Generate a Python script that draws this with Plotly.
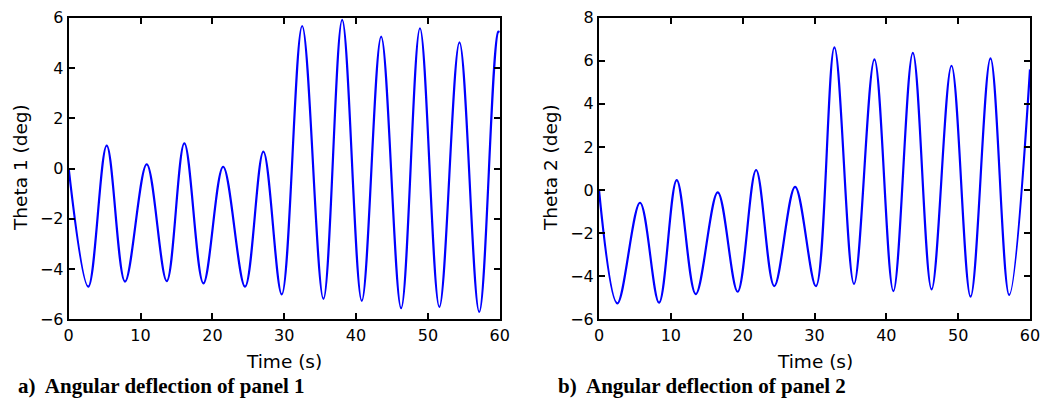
import plotly.graph_objects as go

# Panel 1: extrema (time s, angle deg)
t1 = [0.0, 2.73, 5.29, 7.84, 10.86, 13.65, 16.1, 18.75, 21.5, 24.55, 27.1, 29.66,
      32.5, 35.46, 38.07, 40.8, 43.5, 46.28, 48.9, 51.6, 54.4, 57.15, 59.8, 60.0]
v1 = [0.0, -4.70, 0.91, -4.50, 0.17, -4.48, 1.00, -4.57, 0.07, -4.70, 0.67, -5.01,
      5.67, -5.19, 5.91, -5.27, 5.25, -5.56, 5.58, -5.51, 5.02, -5.71, 5.44, 5.42]

# Panel 2
t2 = [0.0, 2.55, 5.71, 8.36, 10.82, 13.47, 16.53, 19.3, 21.87, 24.4, 27.3, 30.2,
      32.77, 35.5, 38.34, 40.98, 43.69, 46.3, 49.07, 51.73, 54.5, 57.1, 60.0]
v2 = [0.0, -5.26, -0.59, -5.23, 0.46, -4.83, -0.11, -4.72, 0.93, -4.46, 0.15, -4.46,
      6.62, -4.36, 6.07, -4.69, 6.37, -4.61, 5.77, -4.95, 6.11, -4.87, 5.60]

x_ticks = [0, 10, 20, 30, 40, 50, 60]
y1_ticks = [-6, -4, -2, 0, 2, 4, 6]
y2_ticks = [-6, -4, -2, 0, 2, 4, 6, 8]

W, H = 1045, 398
FONT = "DejaVu Sans"

fig = go.Figure()
fig.add_trace(go.Scatter(x=t1, y=v1, mode="lines", line=dict(color="#0000ff", width=2.2, shape="spline", smoothing=1.0),
                         xaxis="x", yaxis="y", showlegend=False))
fig.add_trace(go.Scatter(x=t2, y=v2, mode="lines", line=dict(color="#0000ff", width=2.2, shape="spline", smoothing=1.0),
                         xaxis="x2", yaxis="y2", showlegend=False))

def ax(domain, rng, ticks, anchor):
    return dict(domain=domain, range=rng, tickvals=ticks, ticktext=[str(t).replace("-", "\u2212") for t in ticks],
                showline=True, linecolor="black", linewidth=2, mirror="ticks",
                ticks="inside", ticklen=6, tickwidth=1.5, tickcolor="black",
                showgrid=False, zeroline=False, anchor=anchor, automargin=False,
                tickfont=dict(family=FONT, size=16, color="black"))

yd = [1 - 319.3 / H, 1 - 17.7 / H]
fig.update_layout(
    width=W, height=H, margin=dict(l=0, r=0, t=0, b=0, pad=0),
    paper_bgcolor="white", plot_bgcolor="white",
    xaxis=ax([68.7 / W, 499.7 / W], [0, 60], x_ticks, "y"),
    yaxis=ax(yd, [-6, 6], y1_ticks, "x"),
    xaxis2=ax([599 / W, 1030 / W], [0, 60], x_ticks, "y2"),
    yaxis2=ax(yd, [-6, 8], y2_ticks, "x2"),
)

tf = dict(family=FONT, size=18.5, color="black")
cf = dict(family="Liberation Serif", size=21, color="black")
common = dict(xref="paper", yref="paper", showarrow=False, yanchor="middle")
ann = [
    dict(text="Time (s)", x=284 / W, y=1 - 361.5 / H, xanchor="center", font=tf, **common),
    dict(text="Time (s)", x=815 / W, y=1 - 361.5 / H, xanchor="center", font=tf, **common),
    dict(text="Theta 1 (deg)", x=20 / W, y=1 - 168 / H, xanchor="center", font=tf, textangle=-90, **common),
    dict(text="Theta 2 (deg)", x=550 / W, y=1 - 168 / H, xanchor="center", font=tf, textangle=-90, **common),
    dict(text="<b>a)\u00a0 Angular deflection of panel 1</b>", x=16 / W, y=1 - 386 / H, xanchor="left", font=cf, **common),
    dict(text="<b>b)\u00a0 Angular deflection of panel 2</b>", x=556 / W, y=1 - 386 / H, xanchor="left", font=cf, **common),
]
fig.update_layout(annotations=ann)
fig.write_html("out.html", config={"displayModeBar": False},
               post_script="document.body.style.margin='0';document.body.style.overflow='hidden';")
